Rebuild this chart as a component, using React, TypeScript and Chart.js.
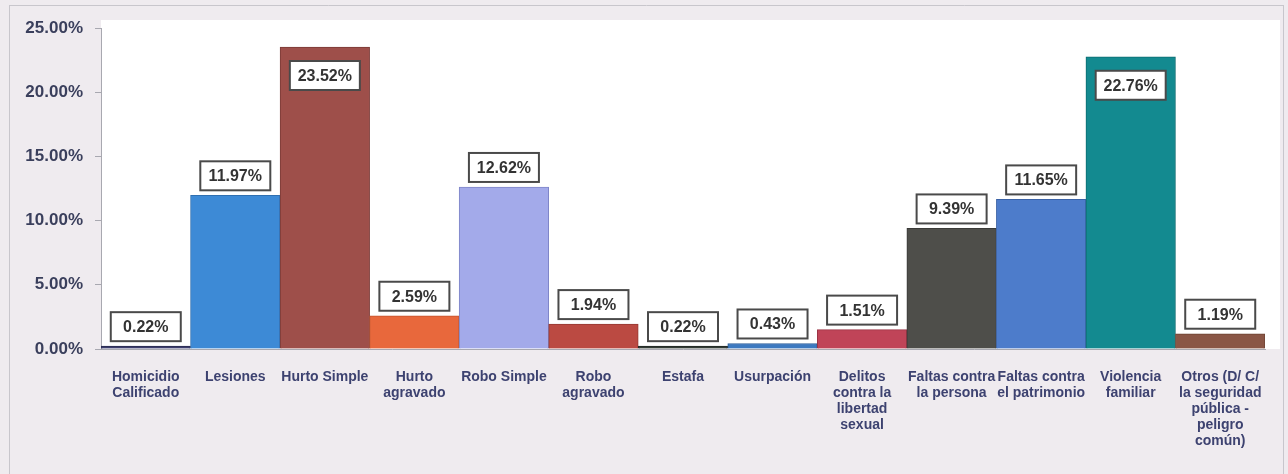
import React, { useEffect, useRef } from "react";
import { Chart, registerables } from "chart.js";

Chart.register(...registerables);

const categories: string[][] = [
  ["Homicidio", "Calificado"],
  ["Lesiones"],
  ["Hurto Simple"],
  ["Hurto", "agravado"],
  ["Robo Simple"],
  ["Robo", "agravado"],
  ["Estafa"],
  ["Usurpación"],
  ["Delitos", "contra la", "libertad", "sexual"],
  ["Faltas contra", "la persona"],
  ["Faltas contra", "el patrimonio"],
  ["Violencia", "familiar"],
  ["Otros (D/ C/", "la seguridad", "pública -", "peligro", "común)"],
];

const values: number[] = [0.22, 11.97, 23.52, 2.59, 12.62, 1.94, 0.22, 0.43, 1.51, 9.39, 11.65, 22.76, 1.19];

const barColors: string[] = [
  "#3d3f6e", "#3d8ad6", "#9e4f4a", "#e8683c", "#a3aaea", "#bb4a42", "#333c36",
  "#3c79c0", "#c04458", "#4e4e4a", "#4d7ccb", "#138a90", "#8a5646",
];
const barBorders: string[] = [
  "#2a2c50", "#2f6fb0", "#7a3a36", "#c2532c", "#7f86c8", "#963a33", "#222824",
  "#2d5e98", "#9a3445", "#3a3a37", "#3a62a6", "#0c6b70", "#6c4233",
];

const yTicks: number[] = [0, 5, 10, 15, 20, 25];

const labelPlugin = {
  id: "valueBoxes",
  afterDatasetsDraw(chart: any) {
    const ctx = chart.ctx;
    const meta = chart.getDatasetMeta(0);
    ctx.save();
    ctx.font = "bold 16px 'Liberation Sans', Arial, sans-serif";
    ctx.textAlign = "center";
    ctx.textBaseline = "middle";
    meta.data.forEach((bar: any, i: number) => {
      const v = values[i];
      const text = v.toFixed(2) + "%";
      const w = 70;
      const h = 29;
      const cx = bar.x;
      let top: number;
      if (v > 20) top = bar.y + 14;
      else top = bar.y - 5 - h;
      ctx.fillStyle = "#ffffff";
      ctx.fillRect(cx - w / 2, top, w, h);
      ctx.strokeStyle = "#4a4a4a";
      ctx.lineWidth = 2;
      ctx.strokeRect(cx - w / 2, top, w, h);
      ctx.fillStyle = "#333333";
      ctx.fillText(text, cx, top + h / 2 + 1);
    });
    ctx.restore();
  },
};

const bgPlugin = {
  id: "bg",
  beforeDraw(chart: any) {
    const ctx = chart.ctx;
    const a = chart.chartArea;
    ctx.save();
    ctx.fillStyle = "#efebef";
    ctx.fillRect(0, 0, chart.width, chart.height);
    ctx.fillStyle = "#ffffff";
    ctx.fillRect(a.left, 20, 1280 - a.left, a.bottom - 20);
    ctx.strokeStyle = "#c8c6cc";
    ctx.lineWidth = 1;
    ctx.beginPath();
    ctx.moveTo(10, 5.5);
    ctx.lineTo(1283, 5.5);
    ctx.moveTo(1283.5, 5);
    ctx.lineTo(1283.5, 474);
    ctx.moveTo(9.5, 5);
    ctx.lineTo(9.5, 474);
    ctx.stroke();
    ctx.restore();
  },
};

export default function App() {
  const ref = useRef<HTMLCanvasElement | null>(null);
  useEffect(() => {
    document.body.style.margin = "0";
    const chart = new Chart(ref.current as HTMLCanvasElement, {
      type: "bar",
      data: {
        labels: categories,
        datasets: [
          {
            data: values,
            backgroundColor: barColors,
            borderColor: barBorders,
            borderWidth: 1,
            categoryPercentage: 1,
            barPercentage: 1,
          },
        ],
      },
      options: {
        animation: false,
        responsive: false,
        maintainAspectRatio: false,
        layout: { padding: { left: 0, right: 23, top: 28, bottom: 0 } },
        plugins: { legend: { display: false }, tooltip: { enabled: false } },
        scales: {
          x: {
            grid: { display: false },
            border: { display: true, color: "#a8a8b0", width: 1 },
            ticks: {
              color: "#3d4270",
              font: { family: "'Liberation Sans', Arial, sans-serif", size: 14, weight: "bold", lineHeight: 16 / 14 } as any,
              padding: 12,
              maxRotation: 0,
              autoSkip: false,
            },
            afterFit(scale: any) {
              scale.height = 125;
            },
          },
          y: {
            min: 0,
            max: 25,
            afterBuildTicks(scale: any) {
              scale.ticks = yTicks.map((v) => ({ value: v }));
            },
            grid: { drawOnChartArea: false, drawTicks: true, tickLength: 6, color: "#a8a8b0" },
            border: { display: true, color: "#a8a8b0", width: 1 },
            ticks: {
              color: "#3a3f5c",
              font: { family: "'Liberation Sans', Arial, sans-serif", size: 17, weight: "bold" } as any,
              padding: 12,
              callback: (v: any) => Number(v).toFixed(2) + "%",
            },
            afterFit(scale: any) {
              scale.width = 101;
            },
          },
        },
      },
      plugins: [bgPlugin, labelPlugin],
    });
    return () => chart.destroy();
  }, []);
  return <canvas ref={ref} width={1288} height={474} style={{ display: "block" }} />;
}
